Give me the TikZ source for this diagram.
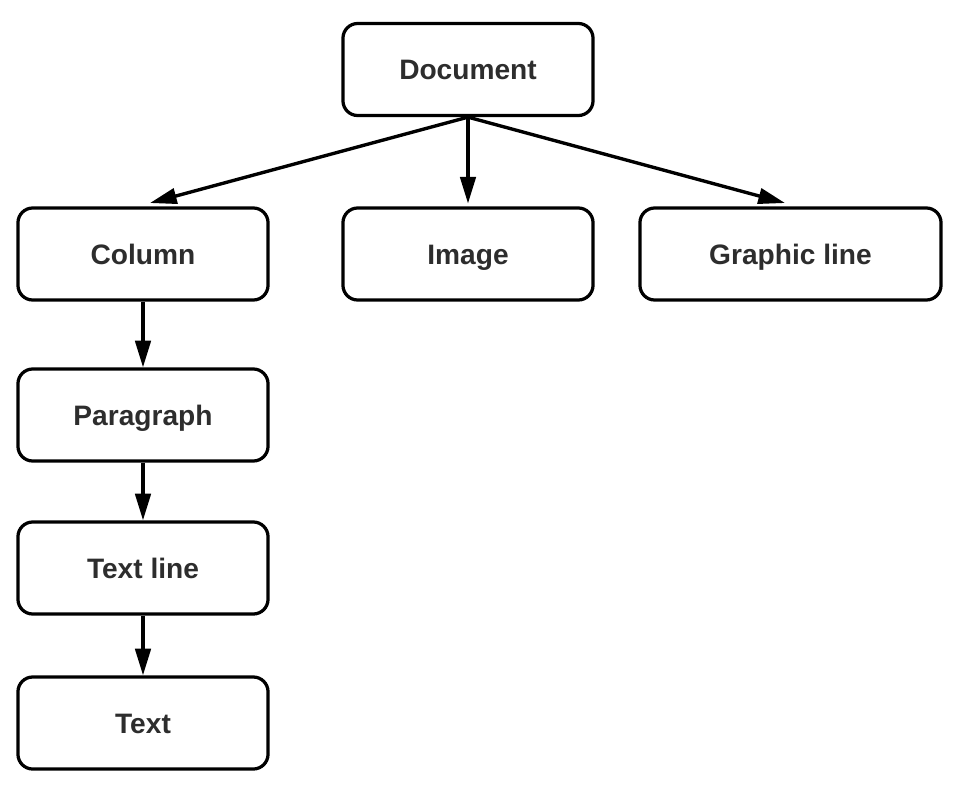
\documentclass[tikz,border=0pt]{standalone}
\usepackage{fontspec}
\setmainfont{Liberation Sans}
\usetikzlibrary{arrows.meta}
\definecolor{labelgray}{RGB}{45,45,45}
\tikzset{
  treebox/.style={draw, line width=2.3pt, rounded corners=10.5pt, color=black,
       minimum width=6.25cm, minimum height=2.3cm, inner sep=0cm,
       text height=18pt, text depth=3.6pt,
       text=labelgray, font=\fontsize{20}{24}\selectfont\bfseries},
  treelink/.style={line width=2.4pt, black, -{Triangle[length=19pt,width=11pt]}}
}
\begin{document}
\begin{tikzpicture}[x=0.025cm, y=-0.025cm]
\useasboundingbox (0,0) rectangle (962,792);

\node[treebox] (document) at (468, 69.5) {Document};
\node[treebox] (column) at (143, 254) {Column};
\node[treebox] (image) at (468, 254) {Image};
\node[treebox, minimum width=7.525cm] (graphic) at (790.5, 254) {Graphic line};
\node[treebox] (paragraph) at (143, 415) {Paragraph};
\node[treebox] (textline) at (143, 568) {Text line};
\node[treebox] (text) at (143, 723) {Text};

\coordinate (colend) at (150, 203);
\coordinate (graend) at (785, 203);
\draw[treelink] (document.south) -- (colend);
\draw[treelink, shorten >=2pt] (document.south) -- (image.north);
\draw[treelink] (document.south) -- (graend);

\draw[treelink] (column.south) -- (paragraph.north);
\draw[treelink] (paragraph.south) -- (textline.north);
\draw[treelink] (textline.south) -- (text.north);
\end{tikzpicture}
\end{document}
